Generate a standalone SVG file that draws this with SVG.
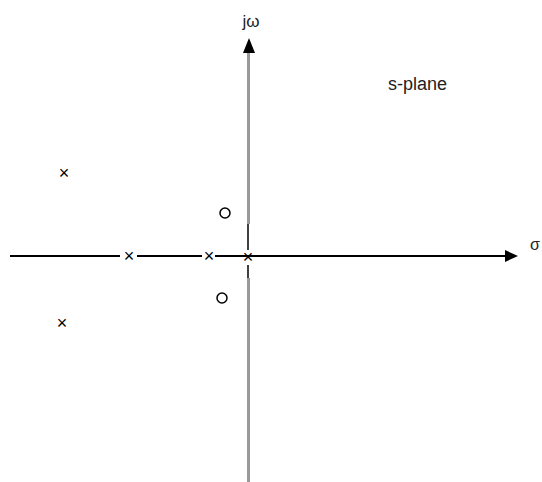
<svg xmlns="http://www.w3.org/2000/svg" width="542" height="482" viewBox="0 0 542 482">
<style>
.lbl{font-family:"Liberation Sans",Arial,sans-serif;fill:#222}
.pole{font-family:"Liberation Sans",Arial,sans-serif;font-size:18px;fill:#000;text-anchor:middle;dominant-baseline:central}
.zero{fill:#fff;stroke:#000;stroke-width:1.5}
.ax{stroke:#000;stroke-width:2;fill:none}
.gray{stroke:#999;stroke-width:3;fill:none}
.thin{stroke:#000;stroke-width:1.5;fill:none}
</style>
<rect width="542" height="482" fill="#fff"/>
<g id="connectors">
<line class="gray" x1="248.5" y1="52" x2="248.5" y2="224"/>
<line class="thin" x1="248" y1="224" x2="248" y2="250"/>
<line class="thin" x1="248" y1="265" x2="248" y2="278"/>
<line class="gray" x1="248.5" y1="278" x2="248.5" y2="482"/>
<polygon points="249,38 243,53 255,53" fill="#000"/>
<line class="ax" x1="10" y1="256" x2="120" y2="256"/>
<line class="ax" x1="137" y1="256" x2="202" y2="256"/>
<line class="ax" x1="215" y1="256" x2="506" y2="256"/>
<polygon points="518,256 505,250 505,262" fill="#000"/>
</g>
<g id="label-jw"><text class="lbl" x="251" y="27" font-size="17" text-anchor="middle">jω</text></g>
<g id="label-splane"><text class="lbl" x="388" y="90" font-size="18">s-plane</text></g>
<g id="label-sigma"><text class="lbl" x="530" y="250" font-size="16">σ</text></g>
<g id="pole1"><text class="pole" x="64" y="173">×</text></g>
<g id="pole2"><text class="pole" x="62" y="323">×</text></g>
<g id="pole3"><text class="pole" x="129" y="256">×</text></g>
<g id="pole4"><text class="pole" x="209" y="256">×</text></g>
<g id="pole5"><text class="pole" x="248" y="257">×</text></g>
<g id="zero1"><circle class="zero" cx="225" cy="213" r="5"/></g>
<g id="zero2"><circle class="zero" cx="222" cy="298" r="5"/></g>
</svg>
